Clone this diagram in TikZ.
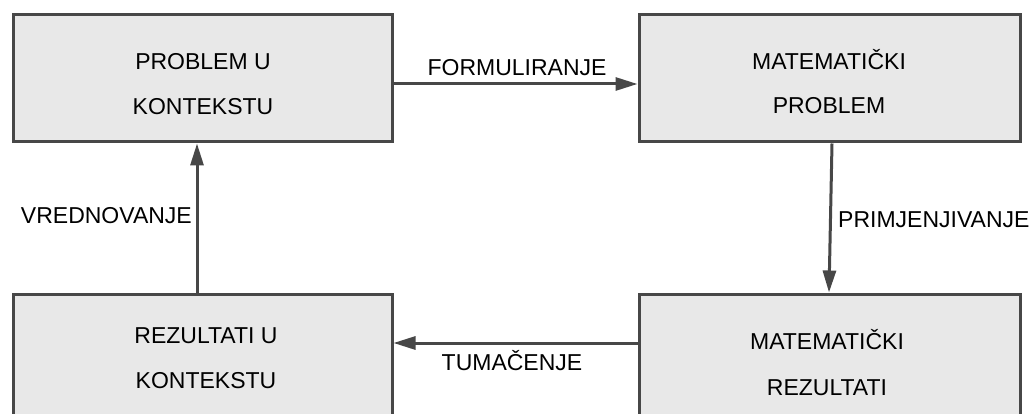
\documentclass[tikz,border=0pt]{standalone}
\usepackage{fontspec}
\setmainfont{Liberation Sans}
\usetikzlibrary{arrows.meta}
\definecolor{edge}{HTML}{474747}
\definecolor{boxfill}{HTML}{E8E8E8}
\tikzset{
  box/.style={draw=edge, fill=boxfill, line width=3pt, inner sep=0pt},
  txt/.style={font=\fontsize{23}{27}\selectfont, text=black, anchor=base, inner sep=0pt},
  arr/.style={draw=edge, line width=3pt, -{Triangle[length=22pt,width=13pt]}},
}
\begin{document}
\begin{tikzpicture}[x=1pt,y=-1pt]
\useasboundingbox (0,0) rectangle (1033,414);
% boxes
\node[box, minimum width=379pt, minimum height=127pt] (pk) at (202.5,78.5) {};
\node[box, minimum width=381pt, minimum height=127pt] (mp) at (829.5,78.5) {};
\node[box, minimum width=379pt, minimum height=140pt] (rk) at (202.5,364) {};
\node[box, minimum width=381pt, minimum height=140pt] (mr) at (829.5,364) {};
% box texts
\node[txt] (pk1) at (203,70) {PROBLEM U};
\node[txt] (pk2) at (203,115) {KONTEKSTU};
\node[txt] (mp1) at (829,70) {MATEMATIČKI};
\node[txt] (mp2) at (829,114) {PROBLEM};
\node[txt] (rk1) at (206,343) {REZULTATI U};
\node[txt] (rk2) at (206,388) {KONTEKSTU};
\node[txt] (mr1) at (827,349) {MATEMATIČKI};
\node[txt] (mr2) at (827,395) {REZULTATI};
% connectors
\draw[arr] (pk.east |- 0,84) -- (mp.west |- 0,84);
\draw[arr] (mp.south -| 832,0) -- (mr.north -| 829,0);
\draw[arr] (mr.west |- 0,343) -- (rk.east |- 0,343);
\draw[arr] (rk.north -| 197,0) -- (pk.south -| 197,0);
% connector labels
\node[txt] (l1) at (517,76) {FORMULIRANJE};
\node[txt, anchor=base west] (l2) at (838,228) {PRIMJENJIVANJE};
\node[txt] (l3) at (512,370) {TUMAČENJE};
\node[txt, anchor=base east] (l4) at (192,223) {VREDNOVANJE};
\end{tikzpicture}
\end{document}
